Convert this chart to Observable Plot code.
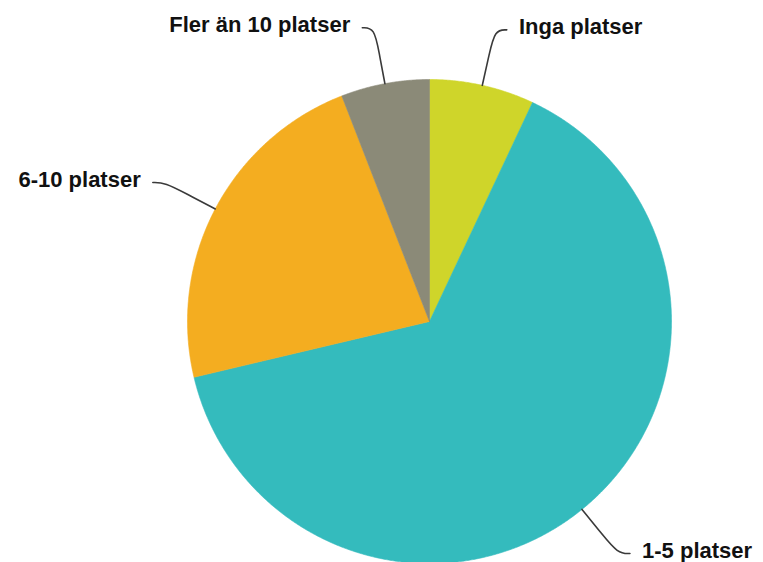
<!DOCTYPE html>
<html>
<head>
<meta charset="utf-8">
<script src="https://cdn.jsdelivr.net/npm/d3@7"></script>
<script src="https://cdn.jsdelivr.net/npm/@observablehq/plot@0.6"></script>
<style>
  html, body { margin: 0; padding: 0; background: #ffffff; }
  #chart svg { display: block; }
</style>
</head>
<body>
<div id="chart"></div>
<script>
// ---- data ----
const categories = ["Inga platser", "1-5 platser", "6-10 platser", "Fler än 10 platser"];
const shares = [7.0, 64.3, 22.8, 5.9];
const colors = ["#cfd52a", "#34bbbd", "#f4ad20", "#8b8a78"];

// ---- layout ----
const W = 763, H = 562;
const cx = 429, cy = 321, R = 242;           // pixel placement of the pie
const cornerR = 1.235, tail = 0.05, gap = 0.05;

const table = categories.map((c, i) => ({cat: c, value: shares[i]}));
const arcs = d3.pie().sort(null).value(d => d.value)(table);

const pt = (a, r) => ({x: r * Math.sin(a), y: r * Math.cos(a)});

// slice outlines
const slicePts = [];
for (const a of arcs) {
  slicePts.push({cat: a.data.cat, x: 0, y: 0});
  const n = Math.max(2, Math.ceil((a.endAngle - a.startAngle) / 0.005));
  for (let k = 0; k <= n; k++) {
    const ang = a.startAngle + (a.endAngle - a.startAngle) * k / n;
    slicePts.push({cat: a.data.cat, ...pt(ang, 1)});
  }
  slicePts.push({cat: a.data.cat, x: 0, y: 0});
}

// leader lines and labels
const leaderPts = [];
const labels = [];
for (const a of arcs) {
  const mid = (a.startAngle + a.endAngle) / 2;
  const side = Math.sin(mid) >= 0 ? 1 : -1;
  const e = pt(mid, 1), m = pt(mid, 1.13), c = pt(mid, cornerR);
  const end = {x: c.x + side * tail, y: c.y};
  for (const p of [e, m, c, end]) leaderPts.push({cat: a.data.cat, ...p});
  labels.push({cat: a.data.cat, side, x: end.x + side * gap, y: end.y});
}

const textStyle = {x: "x", y: "y", text: "cat", dy: -3, fontSize: 22, fontWeight: "bold",
  fontFamily: "Liberation Sans, Arial, sans-serif", fill: "#111111"};

const chart = Plot.plot({
  width: W,
  height: H,
  margin: 0,
  x: {domain: [-cx / R, (W - cx) / R], axis: null},
  y: {domain: [-(H - cy) / R, cy / R], axis: null},
  color: {domain: categories, range: colors},
  style: {background: "#ffffff"},
  marks: [
    Plot.line(slicePts, {x: "x", y: "y", z: "cat", fill: "cat", stroke: "cat", strokeWidth: 0.6, curve: "linear"}),
    Plot.line(leaderPts, {x: "x", y: "y", z: "cat", stroke: "#3a3a3a", strokeWidth: 1.6, curve: "basis"}),
    Plot.text(labels.filter(d => d.side > 0), {...textStyle, textAnchor: "start"}),
    Plot.text(labels.filter(d => d.side < 0), {...textStyle, textAnchor: "end"})
  ]
});
document.getElementById("chart").appendChild(chart);
</script>
</body>
</html>
